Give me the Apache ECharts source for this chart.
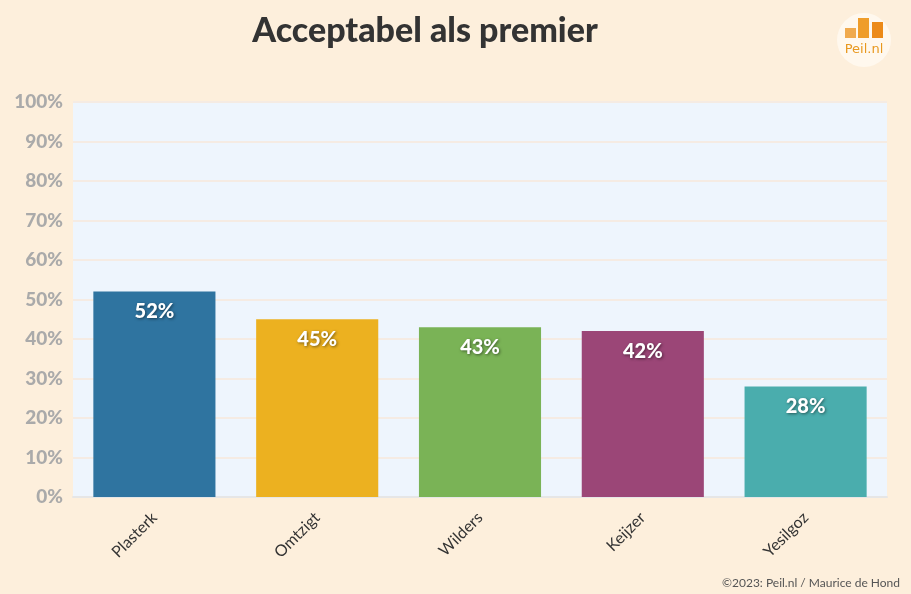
<!DOCTYPE html>
<html><head><meta charset="utf-8">
<script src="https://cdn.jsdelivr.net/npm/echarts@6/dist/echarts.min.js"></script>
<style>html,body{margin:0;padding:0;background:#fdefdc;}#c{width:911px;height:594px;}</style>
</head><body><div id="c"></div>
<script>
const categories = ['Plasterk', 'Omtzigt', 'Wilders', 'Keijzer', 'Yesilgoz'];
const values = [52, 45, 43, 42, 28];
const barColors = ['#2f74a0', '#ecb120', '#7ab356', '#9b4677', '#4aadad'];
const yTicks = [0, 10, 20, 30, 40, 50, 60, 70, 80, 90, 100];

const chart = echarts.init(document.getElementById('c'));
const F = 'Lato, "Open Sans", sans-serif';
chart.setOption({
  backgroundColor: '#fdefdc',
  animation: false,
  title: {
    text: 'Acceptabel als premier', left: 420, top: 9, textAlign: 'center',
    textStyle: {fontFamily: F, fontWeight: 900, fontSize: 34, color: '#333'}
  },
  grid: {left: 73, right: 24, top: 102, bottom: 97, show: true, backgroundColor: '#eef5fd', borderWidth: 0},
  xAxis: {
    type: 'category', data: categories,
    axisLine: {show: true, lineStyle: {color: '#e6e6e6', width: 2}},
    axisTick: {show: false},
    axisLabel: {rotate: 45, color: '#333', fontFamily: F, fontSize: 16, margin: 18}
  },
  yAxis: {
    type: 'value', min: 0, max: 100, interval: 10,
    axisLine: {show: false}, axisTick: {show: false},
    splitLine: {lineStyle: {color: '#f5ebe3', width: 2}},
    axisLabel: {
      color: '#aaaaaa', fontFamily: F, fontWeight: 900, fontSize: 19, margin: 10,
      formatter: v => yTicks.includes(v) ? v + '%' : ''
    }
  },
  series: [{
    type: 'bar', barWidth: '75%',
    data: values.map((v, i) => ({value: v, itemStyle: {color: barColors[i]}})),
    label: {
      show: true, position: 'insideTop', distance: 10,
      formatter: p => p.value + '%',
      color: '#fff', fontFamily: F, fontWeight: 900, fontSize: 20,
      textShadowColor: 'rgba(0,0,0,0.5)', textShadowBlur: 3, textShadowOffsetX: 1, textShadowOffsetY: 1
    }
  }],
  graphic: [
    {type: 'circle', shape: {cx: 864, cy: 40, r: 27}, style: {fill: '#fff8ee'}},
    {type: 'rect', shape: {x: 845, y: 28, width: 11, height: 10}, style: {fill: '#f0aa4e'}},
    {type: 'rect', shape: {x: 858, y: 18, width: 11, height: 20}, style: {fill: '#ef9d2a'}},
    {type: 'rect', shape: {x: 872, y: 22, width: 11, height: 16}, style: {fill: '#ec8a18'}},
    {type: 'text', x: 864, y: 43, style: {text: 'Peil.nl', fill: '#e8981e', font: '13px "DejaVu Sans", sans-serif', textAlign: 'center'}},
    {type: 'text', right: 11, top: 577, style: {text: '©2023: Peil.nl / Maurice de Hond', fill: '#555', font: '12px ' + F}}
  ]
});
</script></body></html>
